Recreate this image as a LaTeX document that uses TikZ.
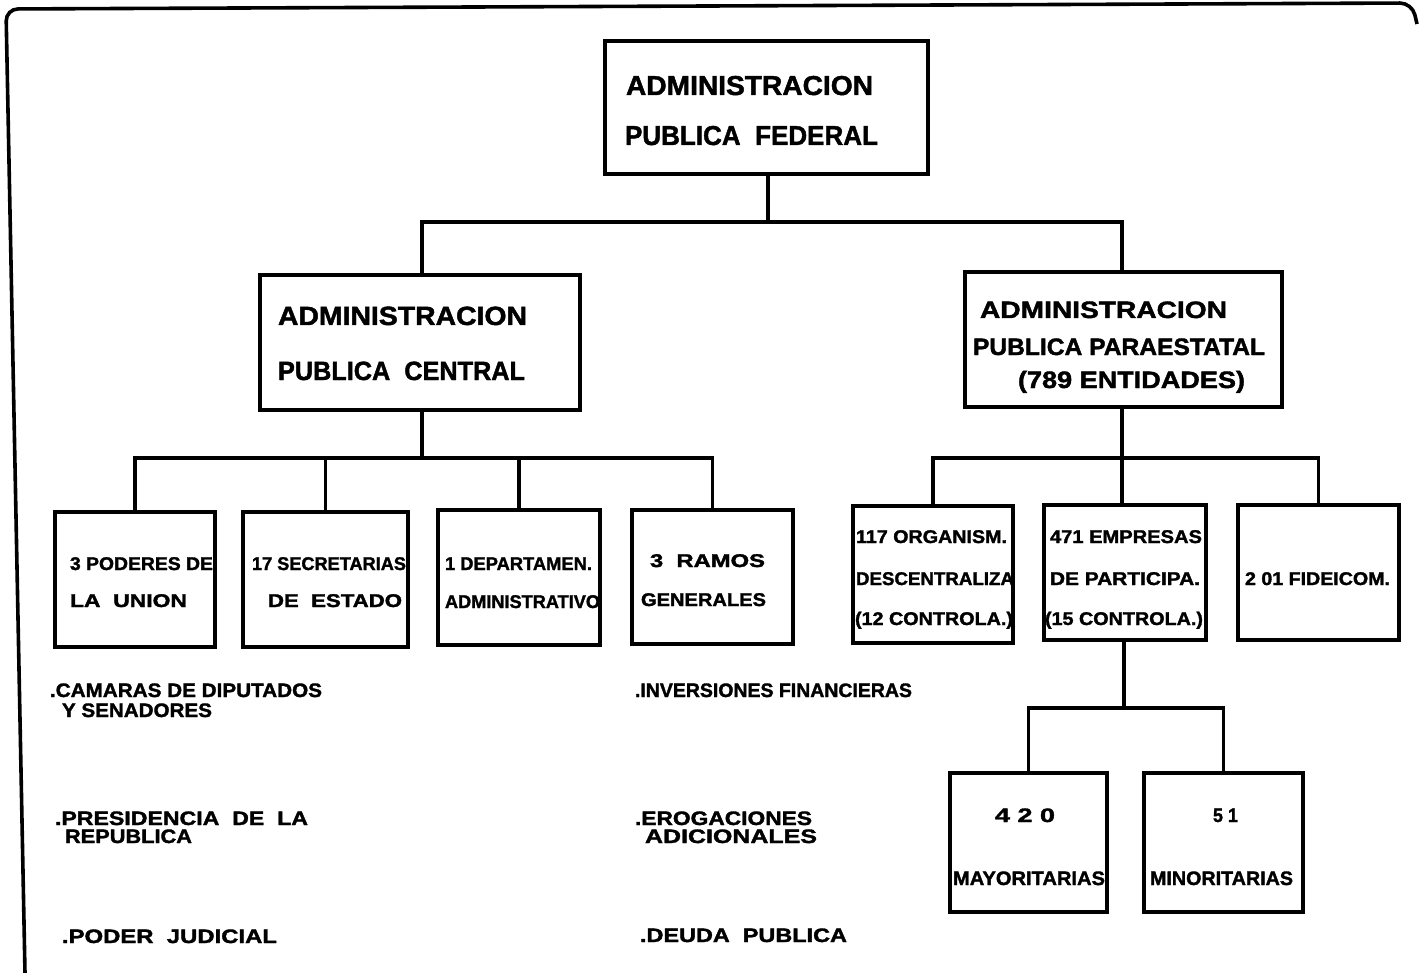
\documentclass[tikz,border=0pt]{standalone}
\usepackage{fontspec}
\usepackage{graphicx}
\setmainfont{Liberation Sans}[BoldFeatures={FakeBold=1.6}]
\newlength\pxu
\setlength\pxu{0.75pt}

% a rectangle node given by its corners (in px)
\newcommand\boxnode[5]{%
  \node[orgbox, minimum width={(#4-#2)*0.75pt}, minimum height={(#5-#3)*0.75pt}]
    (#1) at ({(#2+#4)/2},{(#3+#5)/2}) {};}
% one line of lettering: name, left x, baseline y, width, font, text
\newcommand\txtline[6]{%
  \node[tline, font=#5] (#1) at (#2,#3) {\resizebox{#4\pxu}{\height}{#6}};}

\newcommand\fbig{\fontsize{20.5pt}{22pt}\selectfont\bfseries}
\newcommand\fcen{\fontsize{19.8pt}{22pt}\selectfont\bfseries}
\newcommand\fpar{\fontsize{17.8pt}{20pt}\selectfont\bfseries}
\newcommand\fsmall{\fontsize{13.8pt}{15pt}\selectfont\bfseries}
\newcommand\flist{\fontsize{14.6pt}{16pt}\selectfont\bfseries}

\tikzset{
  orgbox/.style={draw=black, line width=2.3pt, rectangle, inner sep=0pt, outer sep=0pt},
  tline/.style={anchor=base west, inner sep=0pt, outer sep=0pt, text=black},
  link/.style={draw=black, line width=2.3pt},
  frame/.style={draw=black, line width=2.7pt, rounded corners=9pt}
}

\begin{document}
\begin{tikzpicture}[x=0.75pt, y=-0.75pt]
\useasboundingbox (0,0) rectangle (1419,973);
\fill[white] (0,0) rectangle (1419,973);

% outer frame
\draw[frame] (25,973) -- (6,9) -- (1412,3) -- (1417,24);

% boxes
\boxnode{top}{605}{41}{928}{174}
\boxnode{cen}{260}{275}{580}{410}
\boxnode{par}{965}{272}{1282}{407}
\boxnode{bA}{55}{512}{215}{647}
\boxnode{bB}{243}{512}{408}{647}
\boxnode{bC}{438}{510}{600}{645}
\boxnode{bD}{632}{510}{793}{644}
\boxnode{bE}{853}{506}{1013}{643}
\boxnode{bF}{1044}{505}{1206}{640}
\boxnode{bG}{1238}{505}{1399}{640}
\boxnode{may}{950}{773}{1107}{912}
\boxnode{mino}{1144}{773}{1303}{912}

% connectors
\coordinate (j1) at (768,222);
\coordinate (j2) at (422,458);
\coordinate (j3) at (1122,458);
\coordinate (j4) at (1124,708);
\draw[link] (top.south -| j1) -- (j1);
\draw[link] (cen.north -| j2) |- (j1) -| (par.north -| j3);
\draw[link] (cen.south -| j2) -- (j2);
\draw[link] (bA.north) |- (j2) -| (bD.north);
\draw[link] (bB.north) -- (bB.north |- j2);
\draw[link] (bC.north) -- (bC.north |- j2);
\draw[link] (par.south -| j3) -- (j3);
\draw[link] (bE.north) |- (j3) -| (bG.north);
\draw[link] (bF.north -| j3) -- (j3);
\draw[link] (bF.south -| j4) -- (j4);
\draw[link] (may.north) |- (j4) -| (mino.north);

% lettering in the boxes
\txtline{tA}{626}{95}{247}{\fbig}{ADMINISTRACION}
\txtline{tB}{625}{145}{253}{\fbig}{PUBLICA\ \ FEDERAL}
\txtline{cA}{278}{325}{249}{\fcen}{ADMINISTRACION}
\txtline{cB}{278}{380}{247}{\fcen}{PUBLICA\ \ CENTRAL}
\txtline{pA}{980}{318}{247}{\fpar}{ADMINISTRACION}
\txtline{pB}{973}{355}{292}{\fpar}{PUBLICA PARAESTATAL}
\txtline{pC}{1018}{388}{227}{\fpar}{(789 ENTIDADES)}

\txtline{bA1}{70}{570}{143}{\fsmall}{3 PODERES DE}
\txtline{bA2}{70}{607}{117}{\fsmall}{LA\ \ UNION}
\txtline{bB1}{252}{570}{154}{\fsmall}{17 SECRETARIAS}
\txtline{bB2}{268}{607}{134}{\fsmall}{DE\ \ ESTADO}
\txtline{bC1}{445}{570}{147}{\fsmall}{1 DEPARTAMEN.}
\txtline{bC2}{445}{608}{155}{\fsmall}{ADMINISTRATIVO}
\txtline{bD1}{650}{567}{115}{\fsmall}{3\ \ RAMOS}
\txtline{bD2}{641}{606}{125}{\fsmall}{GENERALES}
\txtline{bE1}{856}{543}{151}{\fsmall}{117 ORGANISM.}
\txtline{bE2}{856}{585}{158}{\fsmall}{DESCENTRALIZA}
\txtline{bE3}{855}{625}{158}{\fsmall}{(12 CONTROLA.)}
\txtline{bF1}{1050}{543}{152}{\fsmall}{471 EMPRESAS}
\txtline{bF2}{1050}{585}{150}{\fsmall}{DE PARTICIPA.}
\txtline{bF3}{1045}{625}{158}{\fsmall}{(15 CONTROLA.)}
\txtline{bG1}{1245}{585}{145}{\fsmall}{2 01 FIDEICOM.}

\txtline{mA}{995}{822}{60}{\flist}{4 2 0}
\txtline{mB}{953}{885}{152}{\flist}{MAYORITARIAS}
\txtline{nA}{1213}{822}{25}{\flist}{5 1}
\txtline{nB}{1150}{885}{143}{\flist}{MINORITARIAS}

% lists under the boxes
\txtline{lA1}{50}{697}{272}{\flist}{.CAMARAS DE DIPUTADOS}
\txtline{lA2}{62}{717}{150}{\flist}{Y SENADORES}
\txtline{lB1}{55}{825}{253}{\flist}{.PRESIDENCIA\ \ DE\ \ LA}
\txtline{lB2}{65}{843}{127}{\flist}{REPUBLICA}
\txtline{lC}{62}{943}{215}{\flist}{.PODER\ \ JUDICIAL}
\txtline{rA}{635}{697}{277}{\flist}{.INVERSIONES FINANCIERAS}
\txtline{rB1}{635}{825}{177}{\flist}{.EROGACIONES}
\txtline{rB2}{645}{843}{172}{\flist}{ADICIONALES}
\txtline{rC}{640}{942}{207}{\flist}{.DEUDA\ \ PUBLICA}
\end{tikzpicture}
\end{document}
